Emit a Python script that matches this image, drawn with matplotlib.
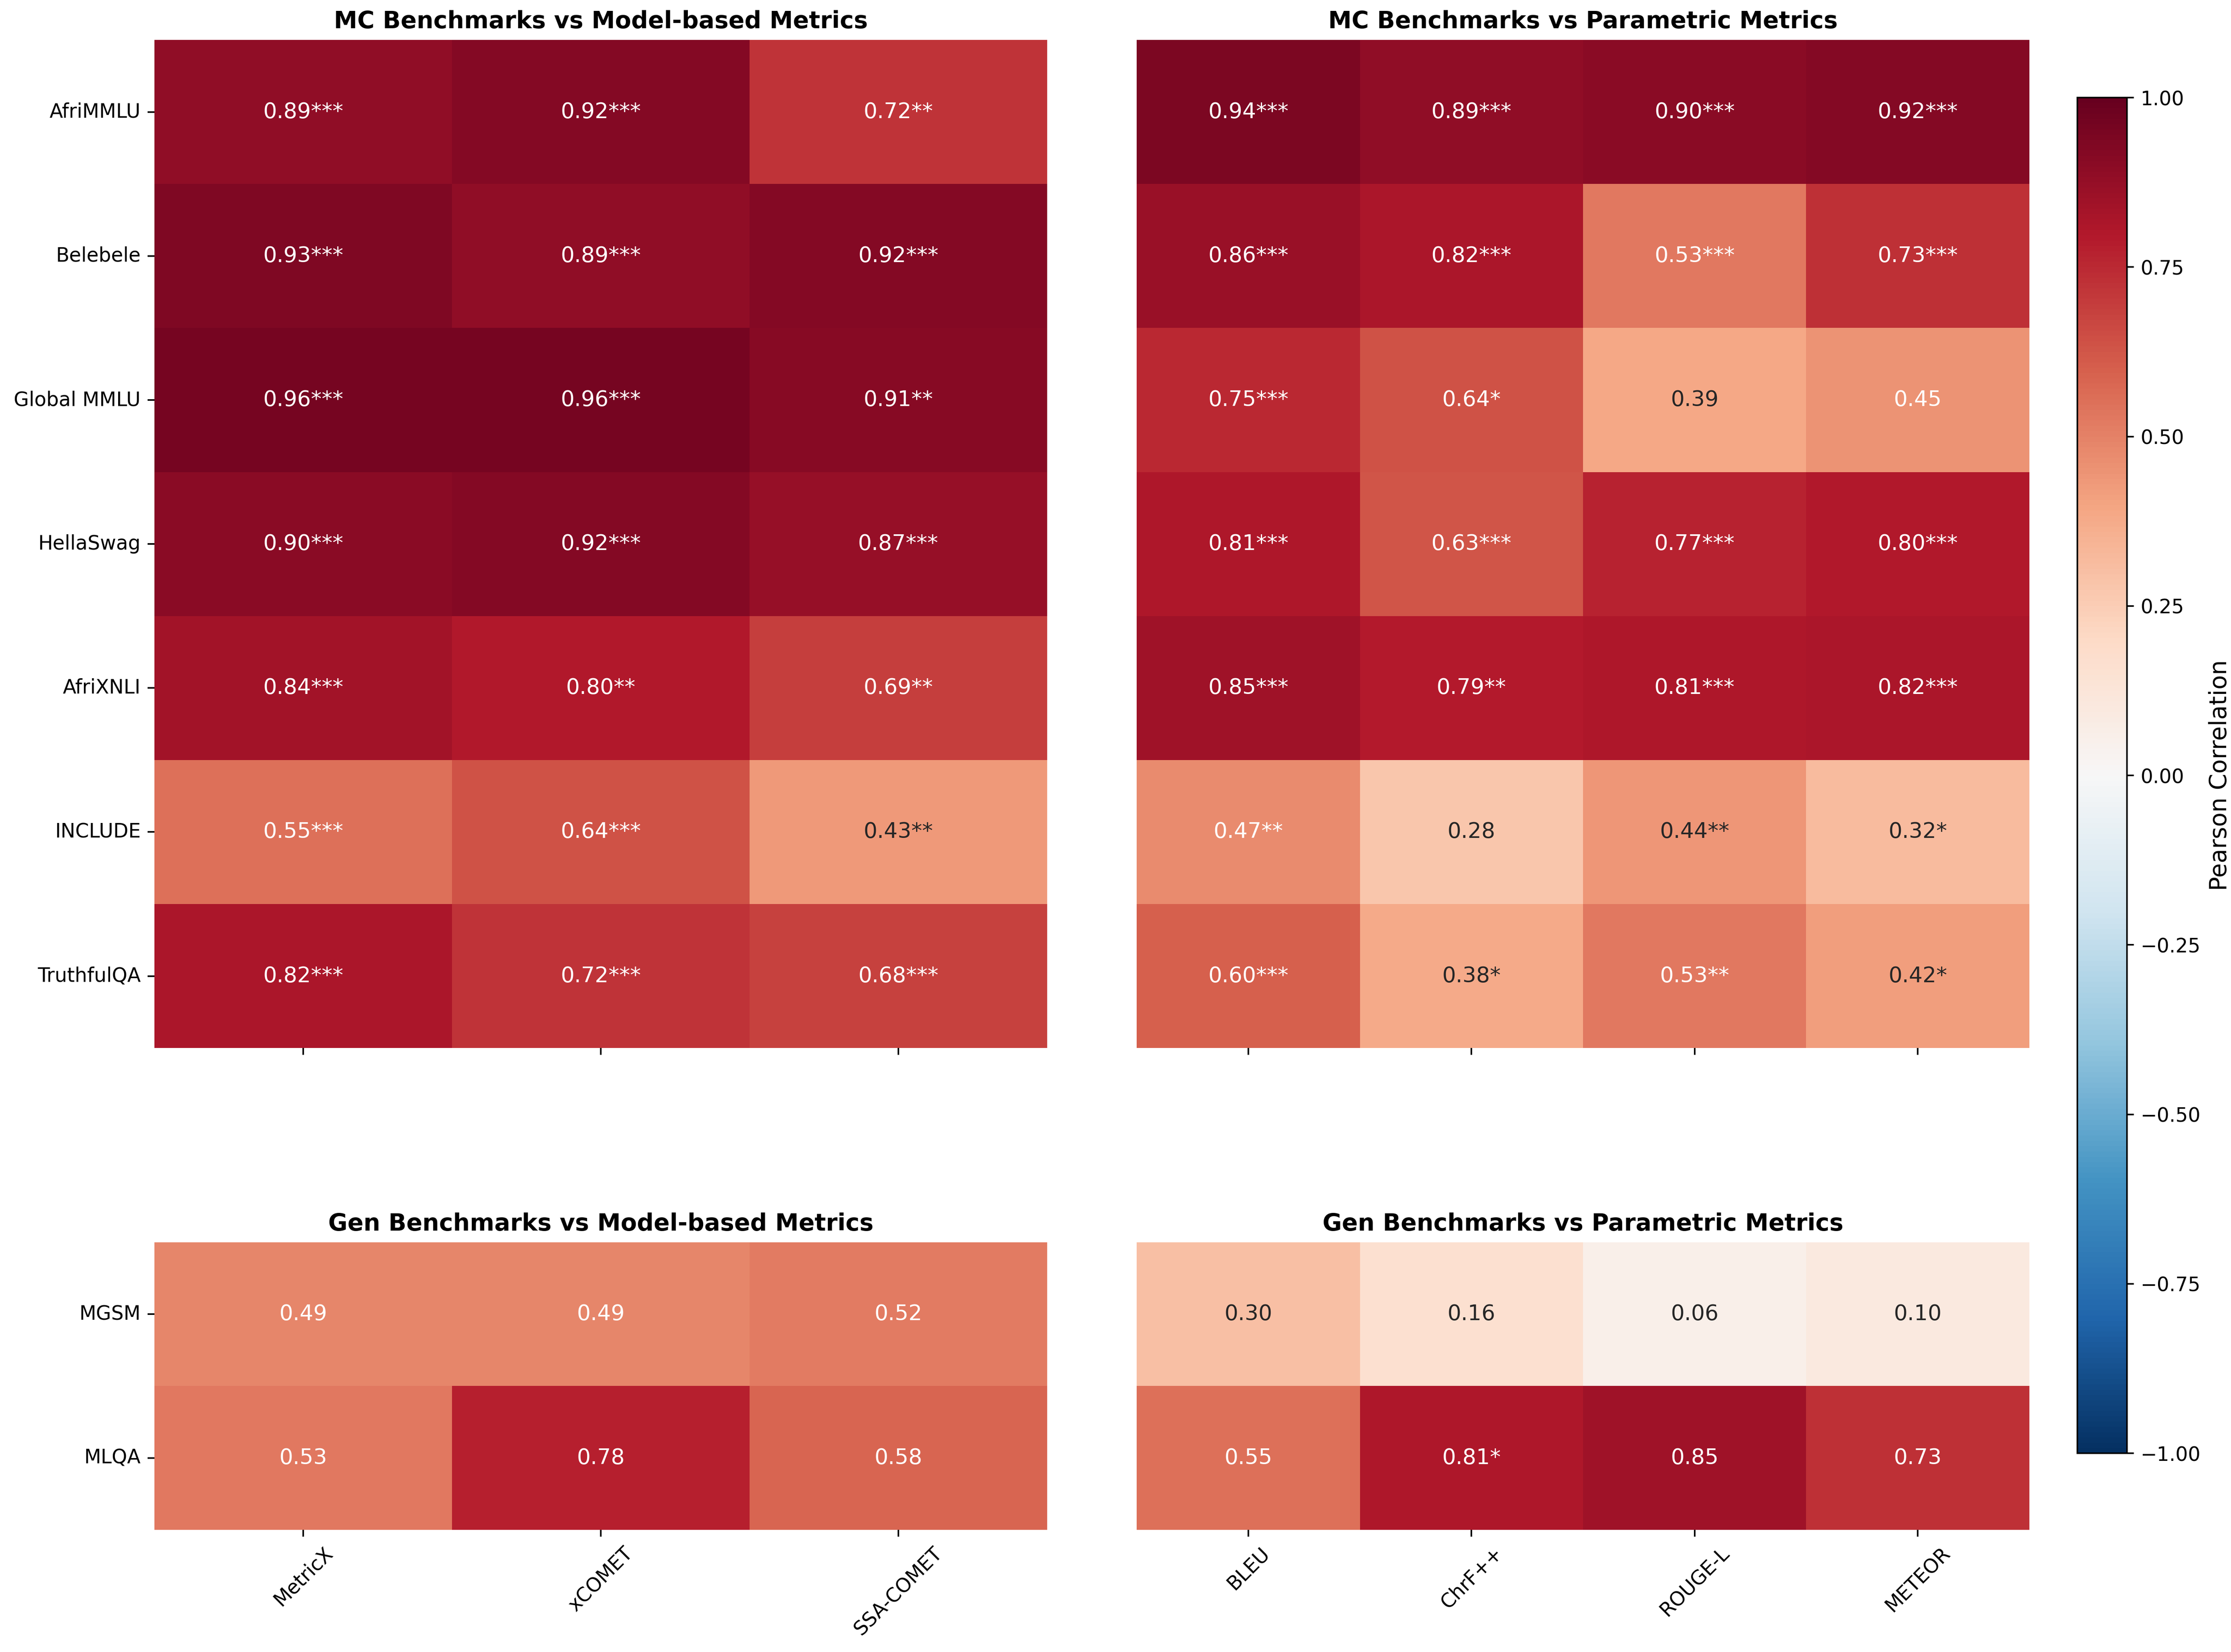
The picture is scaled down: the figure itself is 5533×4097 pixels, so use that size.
"""Correlation heatmaps: MC / generative benchmarks vs model-based and parametric metrics."""

import matplotlib
matplotlib.use("Agg")
import matplotlib.pyplot as plt
import numpy as np
import seaborn as sns

mc_benchmarks = ["AfriMMLU", "Belebele", "Global MMLU", "HellaSwag", "AfriXNLI", "INCLUDE", "TruthfulQA"]
gen_benchmarks = ["MGSM", "MLQA"]
model_metrics = ["MetricX", "xCOMET", "SSA-COMET"]
param_metrics = ["BLEU", "ChrF++", "ROUGE-L", "METEOR"]

# correlation values and significance stars
mc_model_r = [
    [0.89, 0.92, 0.72],
    [0.93, 0.89, 0.92],
    [0.96, 0.96, 0.91],
    [0.90, 0.92, 0.87],
    [0.84, 0.80, 0.69],
    [0.55, 0.64, 0.43],
    [0.82, 0.72, 0.68],
]
mc_model_sig = [
    ["***", "***", "**"],
    ["***", "***", "***"],
    ["***", "***", "**"],
    ["***", "***", "***"],
    ["***", "**", "**"],
    ["***", "***", "**"],
    ["***", "***", "***"],
]
mc_param_r = [
    [0.94, 0.89, 0.90, 0.92],
    [0.86, 0.82, 0.53, 0.73],
    [0.75, 0.64, 0.39, 0.45],
    [0.81, 0.63, 0.77, 0.80],
    [0.85, 0.79, 0.81, 0.82],
    [0.47, 0.28, 0.44, 0.32],
    [0.60, 0.38, 0.53, 0.42],
]
mc_param_sig = [
    ["***", "***", "***", "***"],
    ["***", "***", "***", "***"],
    ["***", "*", "", ""],
    ["***", "***", "***", "***"],
    ["***", "**", "***", "***"],
    ["**", "", "**", "*"],
    ["***", "*", "**", "*"],
]
gen_model_r = [
    [0.49, 0.49, 0.52],
    [0.53, 0.78, 0.58],
]
gen_model_sig = [
    ["", "", ""],
    ["", "", ""],
]
gen_param_r = [
    [0.30, 0.16, 0.06, 0.10],
    [0.55, 0.81, 0.85, 0.73],
]
gen_param_sig = [
    ["", "", "", ""],
    ["", "*", "", ""],
]


def _annot(r, sig):
    return np.array([[f"{v:.2f}{s}" for v, s in zip(rr, ss)] for rr, ss in zip(r, sig)])


def _panel(ax, r, sig, rows, cols, title, show_x, show_y):
    sns.heatmap(
        np.array(r), ax=ax, annot=_annot(r, sig), fmt="", cmap="RdBu_r",
        vmin=-1, vmax=1, center=0, cbar=False,
        xticklabels=cols if show_x else False,
        yticklabels=rows if show_y else False,
        annot_kws={"fontsize": 11},
    )
    ax.set_title(title, fontsize=12, fontweight="bold")
    if show_x:
        ax.set_xticklabels(cols, rotation=45, ha="center", fontsize=10)
    else:
        ax.set_xticks(np.arange(len(cols)) + 0.5)
        ax.set_xticklabels([])
    if show_y:
        ax.set_yticklabels(rows, rotation=0, fontsize=10)


DPI = 350
fig = plt.figure(figsize=(5533 / DPI, 4097 / DPI), dpi=DPI)

ax_tl = fig.add_axes([0.0692, 0.3656, 0.4001, 0.6102])
ax_tr = fig.add_axes([0.5095, 0.3656, 0.4001, 0.6102])
ax_bl = fig.add_axes([0.0692, 0.0740, 0.4001, 0.1740])
ax_br = fig.add_axes([0.5095, 0.0740, 0.4001, 0.1740])
cax = fig.add_axes([0.9311, 0.1203, 0.0222, 0.8206])

_panel(ax_tl, mc_model_r, mc_model_sig, mc_benchmarks, model_metrics,
       "MC Benchmarks vs Model-based Metrics", False, True)
_panel(ax_tr, mc_param_r, mc_param_sig, mc_benchmarks, param_metrics,
       "MC Benchmarks vs Parametric Metrics", False, False)
_panel(ax_bl, gen_model_r, gen_model_sig, gen_benchmarks, model_metrics,
       "Gen Benchmarks vs Model-based Metrics", True, True)
_panel(ax_br, gen_param_r, gen_param_sig, gen_benchmarks, param_metrics,
       "Gen Benchmarks vs Parametric Metrics", True, False)

sm = plt.cm.ScalarMappable(cmap="RdBu_r", norm=plt.Normalize(vmin=-1, vmax=1))
cb = fig.colorbar(sm, cax=cax)
cb.set_ticks(np.arange(-1, 1.01, 0.25))
cb.set_label("Pearson Correlation", fontsize=12)

fig.savefig("out.png", dpi=DPI)
plt.close(fig)
